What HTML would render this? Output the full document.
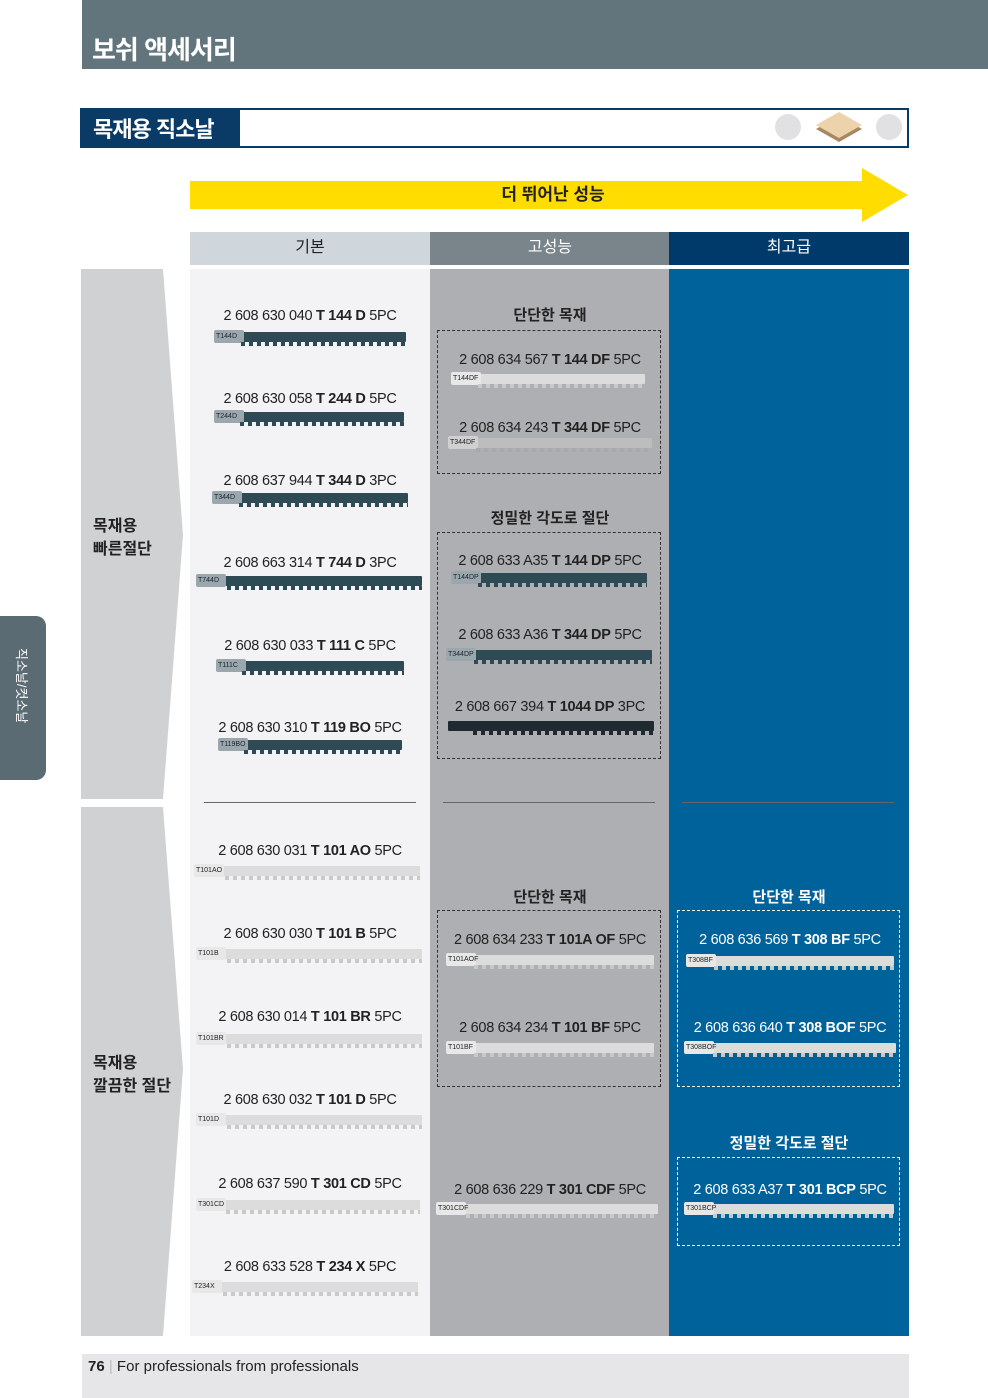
<!DOCTYPE html>
<html><head><meta charset="utf-8"><style>
*{margin:0;padding:0;box-sizing:border-box}
body{width:988px;height:1398px;background:#fff;position:relative;overflow:hidden;font-family:"Liberation Sans","Noto Sans CJK KR",sans-serif}
.a{position:absolute}
.t{position:absolute;font-size:14.5px;letter-spacing:-0.3px;white-space:nowrap;transform:translateX(-50%);color:#222;line-height:16px}
.t b{font-weight:bold}
.h{position:absolute;font-size:15px;font-weight:bold;white-space:nowrap;transform:translateX(-50%);color:#222;line-height:18px}
.w{color:#fff}
.box{position:absolute;border:1.5px dashed #333}
.bw{border-color:#fff}
.b{position:absolute;height:10px;border-radius:1px}
.b::after{content:"";position:absolute;left:12%;right:0;top:10px;height:4px;background:repeating-linear-gradient(90deg,currentColor 0 4px,transparent 4px 8px)}
.b span{position:absolute;left:-4px;top:-2px;width:30px;height:13px;font-size:7px;line-height:13px;padding-left:2px;border-radius:2px}
.d{background:#2e4a54;color:#2e4a54}
.d span{background:#9aa8ad;color:#223}
.l{background:#dcdcdc;color:#c9c9c9}
.l span{background:#e8e8e8;color:#222}
.l2{background:#bdbdbd;color:#a8a8a8}
.l2 span{background:#d0d0d0;color:#222}
.sep{position:absolute;height:1px;background:#666;top:802px}
</style></head><body>
<div class="a" style="left:82px;top:0;width:906px;height:69px;background:#62747c"></div>
<div class="a" style="left:92px;top:30px;color:#fff;font-size:26px;font-weight:bold;letter-spacing:-1px">보쉬 액세서리</div>

<div class="a" style="left:80px;top:108px;width:829px;height:40px;border:2px solid #0a3a66;background:#fff"></div>
<div class="a" style="left:80px;top:108px;width:160px;height:40px;background:#0a3a66"></div>
<div class="a" style="left:93px;top:112px;color:#fff;font-size:22px;font-weight:bold;letter-spacing:-1px">목재용 직소날</div>
<div class="a" style="left:775px;top:114px;width:26px;height:26px;border-radius:50%;background:#e1e1e3"></div>
<div class="a" style="left:876px;top:114px;width:26px;height:26px;border-radius:50%;background:#e1e1e3"></div>
<svg class="a" style="left:814px;top:110px" width="50" height="36"><polygon points="25,6 48,19 25,32 2,19" fill="#a88862"/><polygon points="25,2 48,15 25,28 2,15" fill="#ecd3ab"/></svg>

<svg class="a" style="left:190px;top:168px" width="720" height="56"><polygon points="0,13 672,13 672,0 718,27 672,54 672,41 0,41" fill="#ffdd00"/></svg>
<div class="h" style="left:553px;top:186px;font-size:17px">더 뛰어난 성능</div>

<div class="a" style="left:190px;top:232px;width:240px;height:33px;background:#cfd7dd"></div>
<div class="a" style="left:430px;top:232px;width:239px;height:33px;background:#7a848b"></div>
<div class="a" style="left:669px;top:232px;width:240px;height:33px;background:#003a6a"></div>
<div class="h" style="left:310px;top:239px;font-weight:normal;font-size:16px">기본</div>
<div class="h w" style="left:550px;top:239px;font-weight:normal;font-size:16px">고성능</div>
<div class="h w" style="left:789px;top:239px;font-weight:normal;font-size:16px">최고급</div>

<div class="a" style="left:190px;top:269px;width:240px;height:1067px;background:#f3f3f5"></div>
<div class="a" style="left:430px;top:269px;width:239px;height:1067px;background:#aeafb2"></div>
<div class="a" style="left:669px;top:269px;width:240px;height:1067px;background:#00629b"></div>

<svg class="a" style="left:81px;top:269px" width="110" height="1070"><polygon points="0,0 82,0 102,266 82,530 0,530" fill="#d0d1d3"/><polygon points="0,538 82,538 102,800 82,1067 0,1067" fill="#d0d1d3"/></svg>
<div class="a" style="left:93px;top:515px;font-size:16px;font-weight:bold;line-height:23px;color:#222">목재용<br>빠른절단</div>
<div class="a" style="left:93px;top:1052px;font-size:16px;font-weight:bold;line-height:23px;color:#222">목재용<br>깔끔한 절단</div>

<div class="a" style="left:0;top:616px;width:46px;height:164px;background:#5b6b74;border-radius:0 10px 10px 0"></div>
<div class="a" style="left:13px;top:648px;color:#fff;font-size:13px;writing-mode:vertical-rl;text-orientation:sideways;white-space:nowrap">직소날/컷소날</div>

<div class="sep" style="left:204px;width:212px"></div>
<div class="sep" style="left:443px;width:212px"></div>
<div class="sep" style="left:682px;width:212px"></div>

<!-- col1 -->
<div class="t" style="left:310px;top:308px">2 608 630 040 <b>T 144 D</b> 5PC</div>
<div class="b d" style="left:218px;top:332px;width:188px"><span>T144D</span></div>
<div class="t" style="left:310px;top:391px">2 608 630 058 <b>T 244 D</b> 5PC</div>
<div class="b d" style="left:218px;top:412px;width:186px"><span>T244D</span></div>
<div class="t" style="left:310px;top:473px">2 608 637 944 <b>T 344 D</b> 3PC</div>
<div class="b d" style="left:216px;top:493px;width:192px"><span>T344D</span></div>
<div class="t" style="left:310px;top:555px">2 608 663 314 <b>T 744 D</b> 3PC</div>
<div class="b d" style="left:200px;top:576px;width:222px"><span>T744D</span></div>
<div class="t" style="left:310px;top:638px">2 608 630 033 <b>T 111 C</b> 5PC</div>
<div class="b d" style="left:220px;top:661px;width:184px"><span>T111C</span></div>
<div class="t" style="left:310px;top:720px">2 608 630 310 <b>T 119 BO</b> 5PC</div>
<div class="b d" style="left:222px;top:740px;width:180px"><span>T119BO</span></div>

<div class="t" style="left:310px;top:843px">2 608 630 031 <b>T 101 AO</b> 5PC</div>
<div class="b l" style="left:198px;top:866px;width:222px"><span>T101AO</span></div>
<div class="t" style="left:310px;top:926px">2 608 630 030 <b>T 101 B</b> 5PC</div>
<div class="b l" style="left:200px;top:949px;width:222px"><span>T101B</span></div>
<div class="t" style="left:310px;top:1009px">2 608 630 014 <b>T 101 BR</b> 5PC</div>
<div class="b l" style="left:200px;top:1034px;width:222px"><span>T101BR</span></div>
<div class="t" style="left:310px;top:1092px">2 608 630 032 <b>T 101 D</b> 5PC</div>
<div class="b l" style="left:200px;top:1115px;width:222px"><span>T101D</span></div>
<div class="t" style="left:310px;top:1176px">2 608 637 590 <b>T 301 CD</b> 5PC</div>
<div class="b l" style="left:200px;top:1200px;width:220px"><span>T301CD</span></div>
<div class="t" style="left:310px;top:1259px">2 608 633 528 <b>T 234 X</b> 5PC</div>
<div class="b l" style="left:196px;top:1282px;width:222px"><span>T234X</span></div>

<!-- col2 -->
<div class="h" style="left:550px;top:307px">단단한 목재</div>
<div class="box" style="left:437px;top:330px;width:224px;height:144px"></div>
<div class="t" style="left:550px;top:352px">2 608 634 567 <b>T 144 DF</b> 5PC</div>
<div class="b l" style="left:455px;top:374px;width:190px"><span>T144DF</span></div>
<div class="t" style="left:550px;top:420px">2 608 634 243 <b>T 344 DF</b> 5PC</div>
<div class="b l2" style="left:452px;top:438px;width:200px"><span>T344DF</span></div>
<div class="h" style="left:550px;top:510px">정밀한 각도로 절단</div>
<div class="box" style="left:437px;top:532px;width:224px;height:227px"></div>
<div class="t" style="left:550px;top:553px">2 608 633 A35 <b>T 144 DP</b> 5PC</div>
<div class="b d" style="left:455px;top:573px;width:192px"><span>T144DP</span></div>
<div class="t" style="left:550px;top:627px">2 608 633 A36 <b>T 344 DP</b> 5PC</div>
<div class="b d" style="left:450px;top:650px;width:202px"><span>T344DP</span></div>
<div class="t" style="left:550px;top:699px">2 608 667 394 <b>T 1044 DP</b> 3PC</div>
<div class="b" style="left:448px;top:721px;width:206px;background:#1e2a30;color:#1e2a30"></div>

<div class="h" style="left:550px;top:889px">단단한 목재</div>
<div class="box" style="left:437px;top:910px;width:224px;height:177px"></div>
<div class="t" style="left:550px;top:932px">2 608 634 233 <b>T 101A OF</b> 5PC</div>
<div class="b l" style="left:450px;top:955px;width:204px"><span>T101AOF</span></div>
<div class="t" style="left:550px;top:1020px">2 608 634 234 <b>T 101 BF</b> 5PC</div>
<div class="b l" style="left:450px;top:1043px;width:204px"><span>T101BF</span></div>
<div class="t" style="left:550px;top:1182px">2 608 636 229 <b>T 301 CDF</b> 5PC</div>
<div class="b l" style="left:440px;top:1204px;width:218px"><span>T301CDF</span></div>

<!-- col3 -->
<div class="h w" style="left:789px;top:889px">단단한 목재</div>
<div class="box bw" style="left:677px;top:910px;width:223px;height:177px"></div>
<div class="t w" style="left:790px;top:932px">2 608 636 569 <b>T 308 BF</b> 5PC</div>
<div class="b l" style="left:690px;top:956px;width:204px"><span>T308BF</span></div>
<div class="t w" style="left:790px;top:1020px">2 608 636 640 <b>T 308 BOF</b> 5PC</div>
<div class="b l" style="left:688px;top:1043px;width:208px"><span>T308BOF</span></div>
<div class="h w" style="left:789px;top:1135px">정밀한 각도로 절단</div>
<div class="box bw" style="left:677px;top:1157px;width:223px;height:89px"></div>
<div class="t w" style="left:790px;top:1182px">2 608 633 A37 <b>T 301 BCP</b> 5PC</div>
<div class="b l" style="left:688px;top:1204px;width:206px"><span>T301BCP</span></div>

<div class="a" style="left:82px;top:1354px;width:827px;height:44px;background:#e6e6e8"></div>
<div class="a" style="left:88px;top:1358px;font-size:15px;color:#222"><b>76</b> <span style="color:#bbb">|</span> For professionals from professionals</div>
</body></html>
